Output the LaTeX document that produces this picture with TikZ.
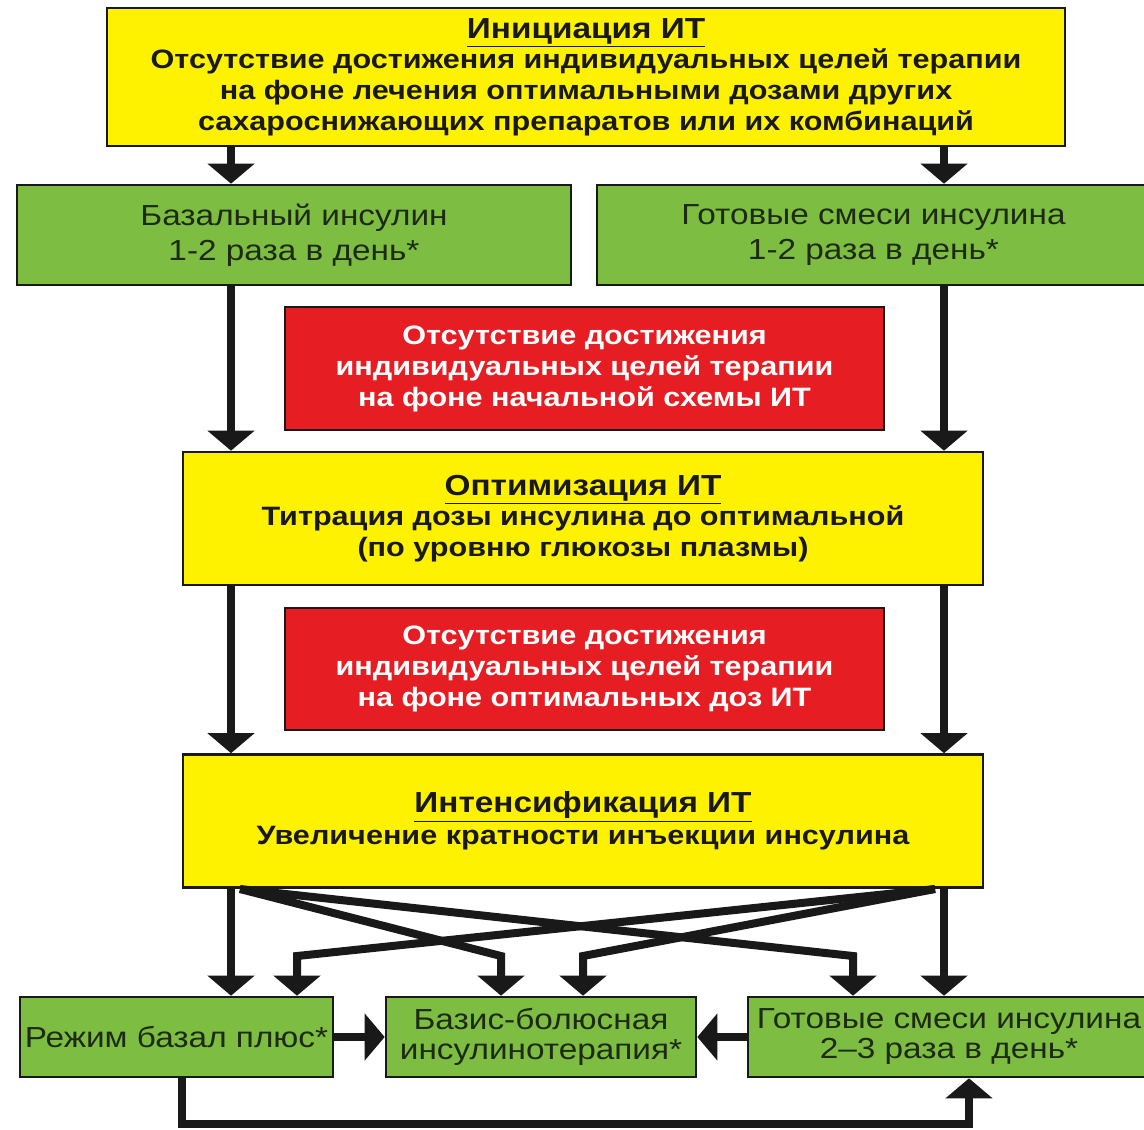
\documentclass[tikz,border=0pt]{standalone}
\usepackage{fontspec}
\setmainfont{Liberation Sans}[FakeStretch=1.15]
\usetikzlibrary{arrows.meta}
\definecolor{yfill}{RGB}{255,242,0}
\definecolor{gfill}{RGB}{125,190,66}
\definecolor{rfill}{RGB}{230,30,36}
\definecolor{ink}{RGB}{25,25,25}
\definecolor{gink}{RGB}{30,42,20}
\newcommand{\ttl}[1]{{\fontsize{14.5}{15}\selectfont\bfseries\underline{#1}}}
\begin{document}
\begin{tikzpicture}[x=0.5pt,y=-0.5pt,
  box/.style={draw=ink, line width=1.3pt, inner sep=0pt, align=center, text=ink},
  ybox/.style={box, fill=yfill, font=\bfseries\fontsize{13.3}{15.3}\selectfont},
  gbox/.style={box, fill=gfill, text=gink, font=\fontsize{14.5}{17.5}\selectfont},
  bbox/.style={box, fill=gfill, text=gink, font=\fontsize{14.5}{15}\selectfont},
  rbox/.style={box, fill=rfill, text=white, font=\bfseries\fontsize{13.3}{15.5}\selectfont},
  conn/.style={draw=ink, line width=4pt, line join=miter},
  arr/.style={conn, -{Triangle[width=23pt,length=10pt]}},
]
\useasboundingbox (0,0) rectangle (1144,1129);
\fill[white] (0,0) rectangle (1144,1129);

\node[ybox, minimum width=479pt, minimum height=69pt] (top) at (586,77)
  {\ttl{Инициация ИТ}\\
   Отсутствие достижения индивидуальных целей терапии\\
   на фоне лечения оптимальными дозами других\\
   сахароснижающих препаратов или их комбинаций};

\node[gbox, minimum width=277pt, minimum height=50pt] (g1) at (294,235)
  {Базальный инсулин\\1-2 раза в день*};
\node[gbox, minimum width=276.5pt, minimum height=50pt] (g2) at (873.5,235)
  {Готовые смеси инсулина\\1-2 раза в день*};

\node[rbox, minimum width=299.5pt, minimum height=61.5pt] (r1) at (584.5,368.5)
  {Отсутствие достижения\\индивидуальных целей терапии\\на фоне начальной схемы ИТ};

\node[ybox, minimum width=400pt, minimum height=66.5pt] (y2) at (583,518.5)
  {\ttl{Оптимизация ИТ}\\
   Титрация дозы инсулина до оптимальной\\
   (по уровню глюкозы плазмы)};

\node[rbox, minimum width=299.5pt, minimum height=61pt] (r2) at (584.5,669)
  {Отсутствие достижения\\индивидуальных целей терапии\\на фоне оптимальных доз ИТ};

\node[ybox, minimum width=400pt, minimum height=66.5pt, font=\bfseries\fontsize{13.3}{16}\selectfont] (y3) at (583,821)
  {\ttl{Интенсификация ИТ}\\
   Увеличение кратности инъекции инсулина};

\node[bbox, minimum width=156.5pt, minimum height=40pt] (b1) at (176.5,1037)
  {Режим базал плюс*};
\node[bbox, minimum width=155pt, minimum height=40pt] (b2) at (541,1037)
  {Базис-болюсная\\инсулинотерапия*};
\node[bbox, minimum width=201pt, minimum height=40pt] (b3) at (949,1037)
  {Готовые смеси инсулина\\2–3 раза в день*};

% column coordinates
\coordinate (L) at (231,0);
\coordinate (R) at (944,0);
\draw[arr] (top.south -| L) -- (g1.north -| L);
\draw[arr] (top.south -| R) -- (g2.north -| R);
\draw[arr] (g1.south -| L) -- (y2.north -| L);
\draw[arr] (g2.south -| R) -- (y2.north -| R);
\draw[arr] (y2.south -| L) -- (y3.north -| L);
\draw[arr] (y2.south -| R) -- (y3.north -| R);
\draw[arr] (y3.south -| L) -- (b1.north -| L);
\draw[arr] (y3.south -| R) -- (b3.north -| R);

% crossing connectors
\coordinate (fl) at (240,889);
\coordinate (fr) at (935,889);
\coordinate (k1) at (501,956);
\coordinate (k2) at (853,956);
\coordinate (k3) at (297,956);
\coordinate (k4) at (583,956);
\draw[arr] (fl) -- (k1) -- (b2.north -| k1);
\draw[arr] (fl) -- (k2) -- (b3.north -| k2);
\draw[arr] (fr) -- (k3) -- (b1.north -| k3);
\draw[arr] (fr) -- (k4) -- (b2.north -| k4);

% horizontal
\draw[arr] (b1.east) -- (b2.west);
\draw[arr] (b3.west) -- (b2.east);

% loop
\coordinate (lpL) at (182,1124);
\coordinate (lpR) at (969,1124);
\draw[arr] (b1.south -| lpL) -- (lpL) -- (lpR) -- (b3.south -| lpR);
\end{tikzpicture}
\end{document}
